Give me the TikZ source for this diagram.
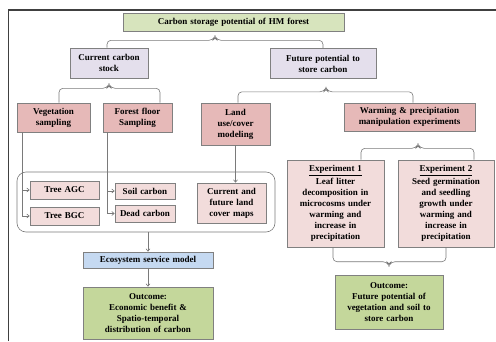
\documentclass[tikz,border=0pt]{standalone}
\usepackage{fontspec}
\setmainfont{Liberation Serif}
\usetikzlibrary{calc,arrows.meta}
\definecolor{titlegreen}{HTML}{D7E4BD}
\definecolor{outgreen}{HTML}{C4D79B}
\definecolor{lavender}{HTML}{E4DFEC}
\definecolor{pinkdark}{HTML}{E6B9B8}
\definecolor{pinklight}{HTML}{F2DCDB}
\definecolor{modelblue}{HTML}{C5D9F1}
\definecolor{boxgray}{HTML}{808080}
\definecolor{linegray}{HTML}{7A7A7A}
\begin{document}
\begin{tikzpicture}[x=1pt,y=-1pt,
	box/.style={draw=boxgray, line width=0.6pt, align=center, inner xsep=2pt, inner ysep=1pt, font=\bfseries\fontsize{9}{11}\selectfont},
	brace/.style={draw=linegray, line width=0.6pt, rounded corners=4pt},
	arr/.style={draw=linegray, line width=0.6pt, -{Straight Barb[length=2.5pt,width=4pt]}}]
		\useasboundingbox (0,0) rectangle (496,341);
		\draw[line width=1.3pt, black!75] (8.5,341) -- (8.5,10) -- (496,10);
		% top
		\node[box, fill=titlegreen, text width=217pt, minimum height=18pt] (title) at (233.5,22) {Carbon storage potential of HM forest};
		\node[box, fill=lavender, text width=74pt, minimum height=30pt] (cur) at (109,63) {Current carbon\\stock};
		\node[box, fill=lavender, text width=102pt, minimum height=30pt] (fut) at (323,63.5) {Future potential to\\store carbon};
		% current stock side
		\node[box, fill=pinkdark, text width=69pt, minimum height=29pt] (veg) at (53.5,117.5) {Vegetation\\sampling};
		\node[box, fill=pinkdark, text width=65pt, minimum height=29pt] (ffl) at (137.5,117.5) {Forest floor\\Sampling};
		\node[box, fill=pinkdark, text width=65pt, minimum height=42pt] (land) at (235.5,124) {Land\\use/cover\\modeling};
		\node[draw=linegray, line width=0.6pt, rounded corners=9pt, minimum width=258pt, minimum height=60pt] (grp) at (146,202) {};
		\node[box, fill=pinklight, text width=65pt, minimum height=18pt] (agc) at (64.5,190) {Tree AGC};
		\node[box, fill=pinklight, text width=65pt, minimum height=18pt] (bgc) at (64.5,216) {Tree BGC};
		\node[box, fill=pinklight, text width=56pt, minimum height=16pt] (soil) at (145,191) {Soil carbon};
		\node[box, fill=pinklight, text width=56pt, minimum height=17pt] (dead) at (145,213.5) {Dead carbon};
		\node[box, fill=pinklight, text width=65pt, minimum height=40pt] (maps) at (231.5,203) {Current and\\future land\\cover maps};
		\node[box, fill=modelblue, text width=126pt, minimum height=16pt] (esm) at (148,260) {Ecosystem service model};
		\node[box, fill=outgreen, text width=126pt, minimum height=52pt] (out1) at (148,313) {Outcome:\\Economic benefit \&\\Spatio-temporal\\distribution of carbon};
		% future side
		\node[box, fill=pinkdark, text width=127pt, minimum height=28pt] (warm) at (409.5,117) {Warming \& precipitation\\manipulation experiments};
		\node[box, fill=pinklight, text width=93pt, minimum height=87pt] (exp1) at (335.5,203.5) {\underline{Experiment 1}\\[1.5pt]Leaf litter\\decomposition in\\microcosms under\\warming and\\increase in\\precipitation};
		\node[box, fill=pinklight, text width=92pt, minimum height=87pt] (exp2) at (446,203.5) {\underline{Experiment 2}\\[1.5pt]Seed germination\\and seedling\\growth under\\warming and\\increase in\\precipitation};
		\node[box, fill=outgreen, text width=104pt, minimum height=54pt] (out2) at (389,302) {Outcome:\\Future potential of\\vegetation and soil to\\store carbon};
		% braces
		\draw[brace] ([xshift=-2pt]cur.north) |- ($(title.south)+(-20.5,9)$) -- ++(2,-4) -- ++(2,4) -| (fut.north);
		\draw[brace] ([xshift=5.5pt]veg.north) |- ($(cur.south)+(-2,10)$) -- ++(2,-4) -- ++(2,4) -| ([xshift=22.5pt]ffl.north);
		\draw[brace] ([xshift=2.5pt]land.north) |- ($(fut.south)+(1,13)$) -- ++(2,-4) -- ++(2,4) -| ([xshift=3.5pt]warm.north);
		\draw[brace] ([xshift=25.5pt]exp1.north) |- ($(warm.south)+(6.5,17)$) -- ++(2,-4) -- ++(2,4) -| ([xshift=28pt]exp2.north);
		\draw[brace] ([xshift=-2.5pt]exp1.south) |- ($(out2.north)+(-2,-13)$) -- ++(2,4) -- ++(2,-4) -| (exp2.south);
		% arrows
		\draw[arr] ([xshift=-31.5pt]veg.south) |- (agc.west);
		\draw[arr] ([xshift=-31.5pt]veg.south) |- (bgc.west);
		\draw[arr] ([xshift=-30.5pt]ffl.south) |- (soil.west);
		\draw[arr] ([xshift=-30.5pt]ffl.south) |- (dead.west);
		\draw[arr] (land.south) -- (land.south |- maps.north);
		\draw[arr] (esm.north |- grp.south) -- (esm.north);
		\draw[arr] (esm.south) -- (out1.north);
	\end{tikzpicture}
\end{document}
